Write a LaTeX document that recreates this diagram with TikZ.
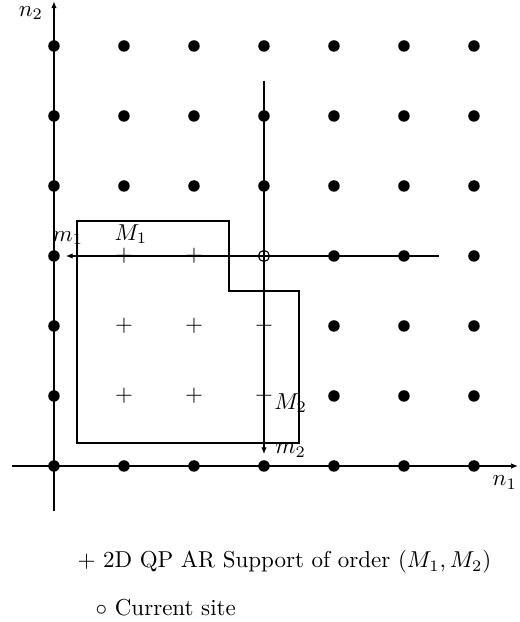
\documentclass[tikz,border=0pt]{standalone}
\usepackage{amsmath,amssymb}
\usetikzlibrary{arrows.meta,positioning}

\begin{document}
\begin{tikzpicture}[
  x=1.07cm,y=1.07cm,
  site/.style={circle,fill=black,inner sep=0pt,minimum size=5pt},
  cursite/.style={circle,draw,line width=0.5pt,inner sep=0pt,minimum size=4.8pt},
  supp/.style={inner sep=0pt},
  axis/.style={-{Latex[length=3pt,width=2.4pt]},line width=0.85pt},
  arr/.style={-{Latex[length=3pt,width=2.4pt]},line width=0.8pt,shorten >=2.4pt},
  lbl/.style={inner sep=0pt}
]
  \useasboundingbox (-0.771,-2.229) rectangle (6.657,6.657);
  % Axes
  \coordinate (xlo) at (-0.6,0);
  \coordinate (xhi) at (6.63,0);
  \coordinate (ylo) at (0,-0.65);
  \coordinate (yhi) at (0,6.64);
  \draw[axis] (xlo) -- (xhi);
  \draw[axis] (ylo) -- (yhi);
  \node[lbl] (n1) at (6.44,-0.24) {$n_1$};
  \node[lbl] (n2) at (-0.33,6.47) {$n_2$};
  % Lattice sites
  \foreach \i/\js in {0/{0,1,2,3,4,5,6},1/{0,4,5,6},2/{0,4,5,6},3/{0,4,5,6},
                      4/{0,1,2,3,4,5,6},5/{0,1,2,3,4,5,6},6/{0,1,2,3,4,5,6}}
    \foreach \j in \js
      \node[site] (d-\i-\j) at (\i,\j) {};
  % Support of the QP AR model
  \foreach \i/\j in {1/3,2/3,1/2,2/2,3/2,1/1,2/1,3/1}
    \node[supp] (p-\i-\j) at (\i,\j) {$+$};
  \node[cursite] (cur) at (3,3) {};
  \draw[line width=0.8pt] (0.33,3.5) -- (2.5,3.5) -- (2.5,2.5) -- (3.5,2.5)
    -- (3.5,0.33) -- (0.33,0.33) -- cycle;
  % Scan directions
  \coordinate (hs) at (5.5,3);
  \coordinate (vs) at (3,5.5);
  \draw[arr] (hs) -- (d-0-3);
  \draw[arr] (vs) -- (d-3-0);
  \node[lbl] (m1) at (0.2,3.26) {$m_1$};
  \node[lbl] (M1) at (1.1,3.31) {$M_1$};
  \node[lbl] (M2) at (3.38,0.9) {$M_2$};
  \node[lbl] (m2) at (3.38,0.22) {$m_2$};
  % Legend
  \node[anchor=west,inner sep=0pt] (leg-sup) at (0.33,-1.37) {$+$ 2D QP AR Support of order $(M_1,M_2)$};
  \node[anchor=west,inner sep=0pt] (leg-cur) at (0.59,-2.03) {$\circ$ Current site};
\end{tikzpicture}
\end{document}
